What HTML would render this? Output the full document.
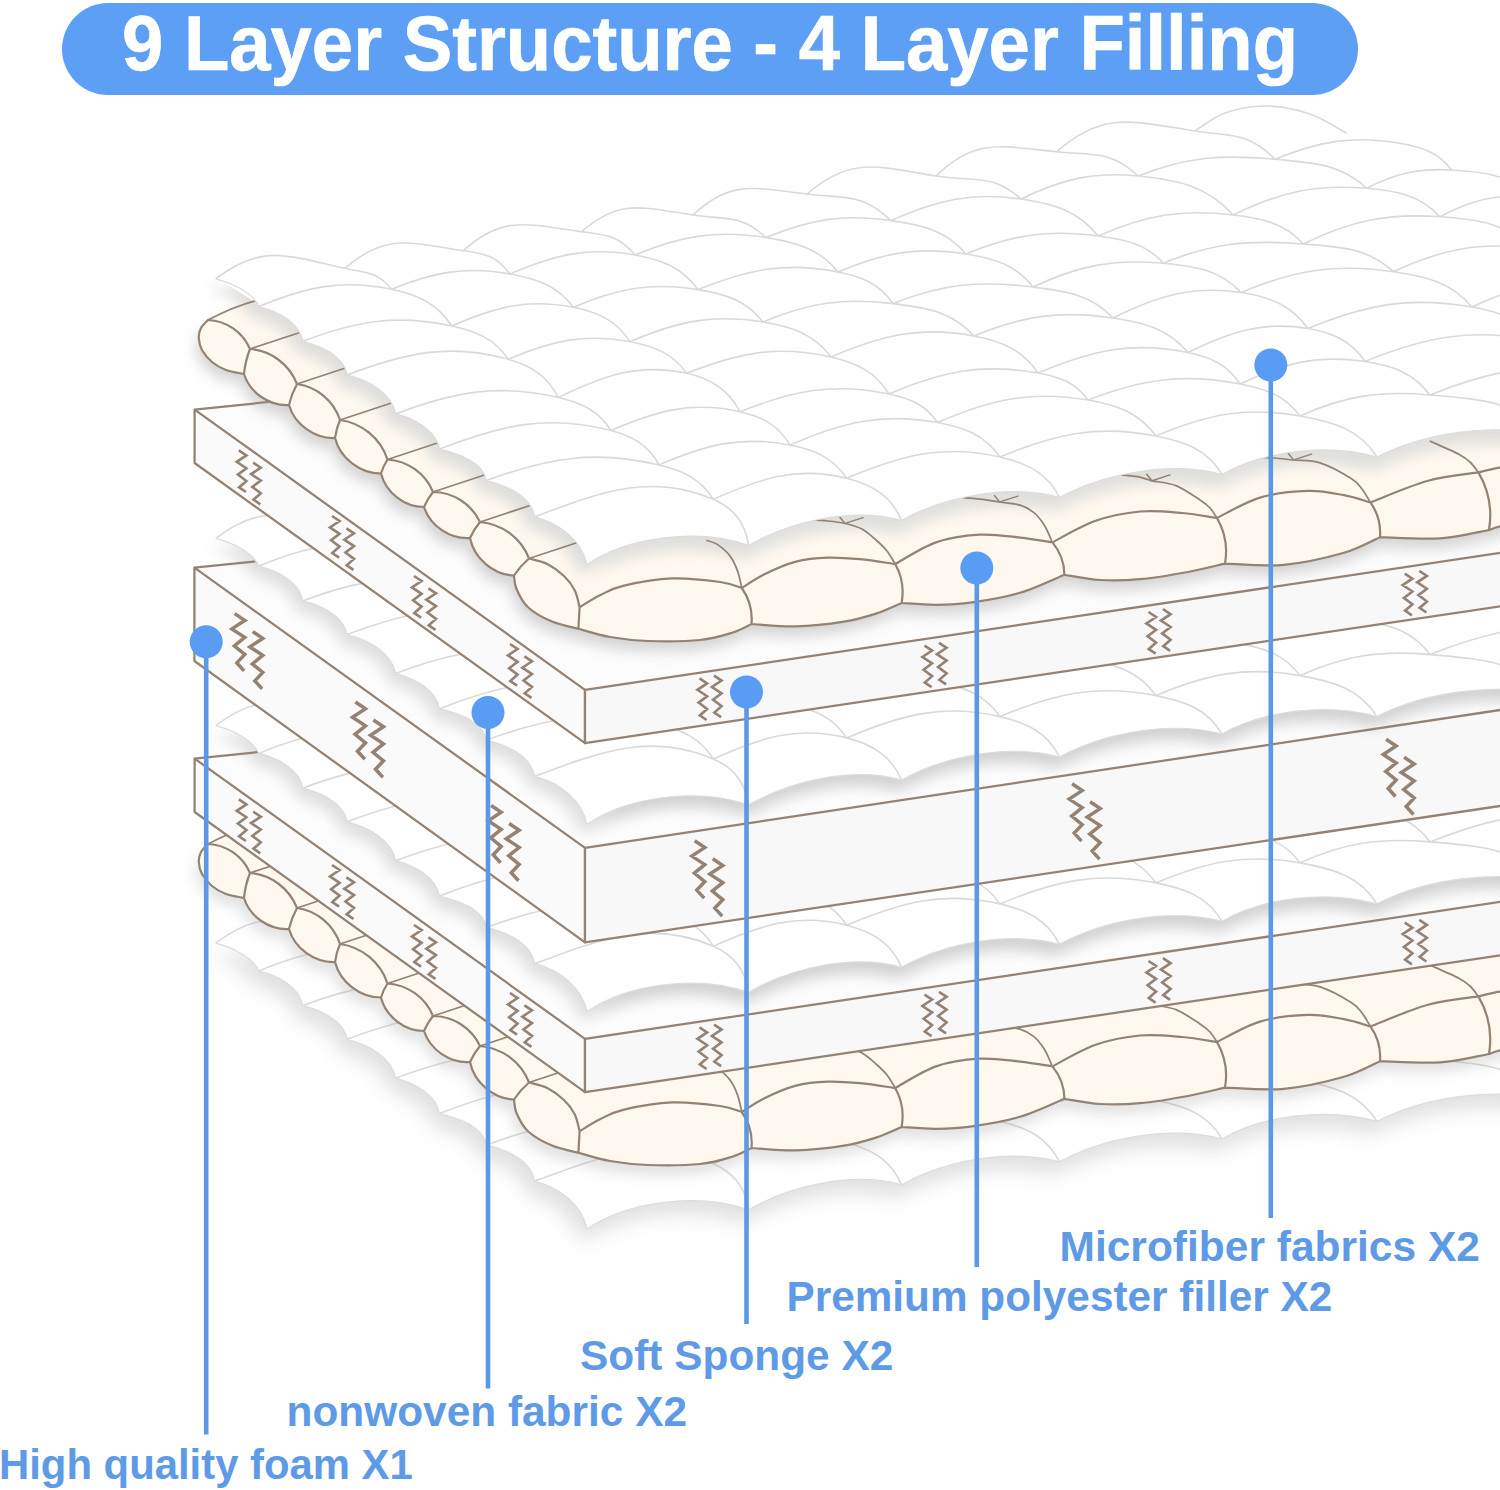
<!DOCTYPE html>
<html><head><meta charset="utf-8"><title>9 Layer Structure</title>
<style>
html,body{margin:0;padding:0;background:#fff;}
body{width:1500px;height:1490px;overflow:hidden;font-family:"Liberation Sans",sans-serif;}
svg{display:block;position:absolute;left:0;top:0;}
text{font-family:"Liberation Sans",sans-serif;font-weight:bold;}
</style></head><body>
<svg width="1500" height="1490" viewBox="0 0 1500 1490">
<defs>
<filter id="blur8" x="-10%" y="-10%" width="120%" height="130%"><feGaussianBlur stdDeviation="7"/></filter>
<filter id="blur5" x="-10%" y="-10%" width="120%" height="130%"><feGaussianBlur stdDeviation="4.5"/></filter>
<filter id="blur12" x="-10%" y="-10%" width="120%" height="130%"><feGaussianBlur stdDeviation="10"/></filter>
<clipPath id="sheetclip"><path d="M215.7,278.8 C230.7,282.8 251.9,291.5 258.9,306.5 C278.9,311.5 299.4,322.8 302.9,341.3 C322.8,346.3 343.7,356.5 347.2,374.9 C369.4,380.5 391.8,393.3 395.7,413.9 C415.8,418.9 436,430.5 439.5,449.1 C459.7,454.1 482.9,461.9 486.4,480.5 C508,485.9 530.9,496.8 534.7,516.8 C560,523.1 582.5,541.4 586.9,564.8 C626.9,536.8 698.5,527.5 748.5,545.5 C789.8,521.5 852.5,506.5 901.5,520.5 C944.2,496.5 1008.9,483.5 1059.5,497.5 C1103.4,473.5 1170,460.5 1222,474.5 C1263.8,450.5 1327.4,443 1377,457 C1423.2,433 1493.3,422 1548,436 L1560,430 L1560,60 L200,60 L200,278.3 Z"/></clipPath>
<clipPath id="puffclip"><path d="M208,320 C206.8,321.3 202.5,325 201,328 C199.5,331 198.6,334.3 198.8,338 C199,341.7 199.8,346 202,350 C204.2,354 208,358.7 212,362 C216,365.3 220.7,368 226,370 C231.3,372 241,373.3 244,374 C249.9,392.8 269.4,406.2 289,405 C294.7,424.6 314.6,438.8 335,438 C340.2,458.3 360.1,473.6 381,473.5 C385.8,492.5 404.4,507 424,507 C430.2,526 450.1,539.4 470,538 C474.2,558.4 493.2,574.6 514,575.5 C514.4,577.8 514.2,583.7 516.5,589 C518.8,594.3 522.1,601.8 528,607.2 C533.9,612.6 543.6,618 552,621.6 C560.4,625.2 574,627.6 578.4,628.8 C583.7,630.2 598.4,635 610,637 C621.6,639 633,640.5 648,641 C663,641.5 686,641.4 700,640 C714,638.6 723.4,635.5 732,632.8 C740.6,630.1 748.2,625.5 751.5,624 C758.9,624.4 780.6,626.8 796,626.4 C811.4,626 830.7,623.7 844,621.6 C857.3,619.5 866.4,616.7 876,613.6 C885.6,610.5 897.3,604.8 901.6,603 C907.3,603.3 924.3,604.9 936,604.8 C947.7,604.7 958,604.4 972,602.4 C986,600.4 1004.6,597.4 1020,592.8 C1035.4,588.2 1057,577.8 1064.4,574.8 C1070.3,575.7 1087.4,579.3 1100,580 C1112.6,580.7 1125.3,580.5 1140,579.2 C1154.7,577.9 1173.8,574.6 1188,572 C1202.2,569.4 1218.8,565 1225,563.6 C1234.8,563.8 1264.2,566.6 1284,564.8 C1303.8,563 1328,557.4 1344,552.8 C1360,548.2 1374,539.8 1380,537.2 C1390,537.4 1421.8,539.6 1440,538.4 C1458.2,537.2 1480.8,531.4 1489,530 C1490.8,529.4 1493.2,528.1 1500,526.4 C1506.8,524.7 1525,521.1 1530,520 L1530,380 L1543,408 L1372,429 L1217,446.5 L1054.5,469.5 L896.5,492.5 L743.5,517.5 L640,500 L608.9,554.8 L556.7,506.8 L508.4,470.5 L461.5,439.1 L417.7,403.9 L369.2,364.9 L324.9,331.3 L280.9,296.5 L256,300.5 Z"/><path d="M192,262 L262,306.5 L256,300.5 L208,320 L192,322 Z"/></clipPath>
<path id="sheetshape" d="M215.7,278.8 C230.7,282.8 251.9,291.5 258.9,306.5 C278.9,311.5 299.4,322.8 302.9,341.3 C322.8,346.3 343.7,356.5 347.2,374.9 C369.4,380.5 391.8,393.3 395.7,413.9 C415.8,418.9 436,430.5 439.5,449.1 C459.7,454.1 482.9,461.9 486.4,480.5 C508,485.9 530.9,496.8 534.7,516.8 C560,523.1 582.5,541.4 586.9,564.8 C626.9,536.8 698.5,527.5 748.5,545.5 C789.8,521.5 852.5,506.5 901.5,520.5 C944.2,496.5 1008.9,483.5 1059.5,497.5 C1103.4,473.5 1170,460.5 1222,474.5 C1263.8,450.5 1327.4,443 1377,457 C1423.2,433 1493.3,422 1548,436 L1560,430 L1560,100 L1300,100 L1318,116 C1271.3,121.7 1238.7,113.4 1195,131 C1142.1,125.9 1105.4,130.5 1056.7,151.7 C1010,149.6 977.9,155.2 936,176 C886.6,172.9 852.6,174.7 807,194 C763,191.3 732.8,196.1 693,215 C650.4,211.8 620.9,214.6 581.7,231.7 C536.5,226 504.9,232.1 463.3,250.7 C418.4,243.6 386.7,250.2 345,268.3 C296.4,259.9 262.1,262.2 215.7,278.8 Z"/>
<g id="sheet">
<use href="#sheetshape" fill="#fff"/>
<path d="M215.7,278.8 C230.7,282.8 251.9,291.5 258.9,306.5 C278.9,311.5 299.4,322.8 302.9,341.3 C322.8,346.3 343.7,356.5 347.2,374.9 C369.4,380.5 391.8,393.3 395.7,413.9 C415.8,418.9 436,430.5 439.5,449.1 C459.7,454.1 482.9,461.9 486.4,480.5 C508,485.9 530.9,496.8 534.7,516.8 C560,523.1 582.5,541.4 586.9,564.8 C626.9,536.8 698.5,527.5 748.5,545.5 C789.8,521.5 852.5,506.5 901.5,520.5 C944.2,496.5 1008.9,483.5 1059.5,497.5 C1103.4,473.5 1170,460.5 1222,474.5 C1263.8,450.5 1327.4,443 1377,457 C1423.2,433 1493.3,422 1548,436" fill="none" stroke="#dcdcdc" stroke-width="1.2"/>
<g clip-path="url(#sheetclip)"><path d="M215.7,278.8 C261.9,243.1 288,255.8 345,268.3 C367.5,273.2 377,271.6 391.7,289.3 M258.9,306.5 C306,287.1 341.9,278.7 391.7,289.3 C417.8,294.9 437.3,303.5 451.7,326 M302.9,341.3 C356,321 396.2,313.9 451.7,326 C476.1,331.3 494.5,338.5 508.3,359.3 M347.2,374.9 C404.8,353.3 449.2,342.4 508.3,359.3 C531.3,365.9 547.6,376.1 558.3,397.5 M395.7,413.9 C453.8,391.9 497.8,383.4 558.3,397.5 C581.3,402.9 598.5,410.5 611,430.5 M439.5,449.1 C500.6,425.4 547.6,413.8 611,430.5 C632.7,436.2 648.4,445.2 659,465 M486.4,480.5 C548.2,457.8 595,449.5 659,465 C682.7,470.7 700.5,478.5 713.3,499.3 M534.7,516.8 C598.5,492.8 650.8,472.1 713.3,499.3 C733.5,508.1 745.7,523.6 748.5,545.5 M345,268.3 C385.3,232.7 410.1,242.7 463.3,250.7 C486.5,254.2 495.7,255.4 510,274 M391.7,289.3 C433.6,272 465.4,266 510,274 C536.8,278.8 557.2,285.4 573.3,307.3 M451.7,326 C494.5,307.2 527.4,298.2 573.3,307.3 C598,312.2 616.4,320.5 630,341.7 M508.3,359.3 C551.2,340.9 584,333.2 630,341.7 C654.3,346.2 672.6,353.1 686.7,373.3 M558.3,397.5 C603,376 638.2,362.5 686.7,373.3 C711.1,378.7 728.2,389.7 740,411.7 M611,430.5 C656.5,410.9 691.7,400.8 740,411.7 C762.3,416.7 778.5,425.3 790,445 M659,465 C705.1,444.8 740.5,435.5 790,445 C814.5,449.7 832.9,457.5 846.7,478.3 M713.3,499.3 C760.2,478.5 797,465.6 846.7,478.3 C872.2,484.8 891.5,496.2 901.5,520.5 M463.3,250.7 C503.3,214.5 528.2,224.3 581.7,231.7 C607.6,235.3 618,235.1 635,255 M510,274 C554,254.7 587.7,246.6 635,255 C661.9,259.8 682.2,267.3 698,289.6 M573.3,307.3 C617.3,288.5 650.8,281.9 698,289.6 C725.2,294 746.2,300.1 763,322 M630,341.7 C676.9,321.4 712.6,313.7 763,322 C791.7,326.7 813.6,333.7 831,357 M686.7,373.3 C738.1,353.1 777.2,344.5 831,357 C856.5,362.9 875.4,371.7 889,394 M740,411.7 C792.9,390.5 833.2,382.3 889,394 C909.9,398.4 925.7,404.7 937.5,422.5 M790,445 C841.9,422.2 881.7,412.5 937.5,422.5 C964.2,427.3 984.4,434.8 1000,457 M846.7,478.3 C900.9,455.4 942.7,443.6 1000,457 C1026.6,463.2 1047.6,472.9 1059.5,497.5 M581.7,231.7 C619.6,198.1 642.9,207.5 693,215 C727,220.1 740.9,214.1 766,237.6 M635,255 C681.4,235.7 716.4,229.8 766,237.6 C796,242.3 819.1,248.3 838,272 M698,289.6 C747.7,269.4 785.4,261.4 838,272 C861.6,276.7 879.5,283.6 893,303.6 M763,322 C808.9,302.5 843.5,297.6 893,303.6 C925.9,307.6 951.7,311.4 974,336 M831,357 C881.4,335.2 920.1,325.7 974,336 C1001.6,341.3 1022.3,349.7 1038,373 M889,394 C941.6,371.6 981.7,362.9 1038,373 C1059.3,376.8 1075.4,382.4 1088,400 M937.5,422.5 C990.5,399.4 1031,390.3 1088,400 C1116.8,404.9 1138.8,412.4 1156,436 M1000,457 C1055.2,433.9 1097.3,424.3 1156,436 C1184.5,441.7 1207.6,449.3 1222,474.5 M693,215 C730.9,179.1 755.2,188 807,194 C846.4,198.5 862.3,193.3 891,220.6 M766,237.6 C810.2,219.1 843.5,213.8 891,220.6 C921.9,225 945.9,230.1 966,254 M838,272 C883.2,252.8 917.5,246.2 966,254 C994,258.5 1015.6,264.6 1033,287 M893,303.6 C942.8,283.7 979.9,280.3 1033,287 C1065.3,291.1 1090.8,294.1 1113,318 M974,336 C1023.2,315.7 1060.3,310 1113,318 C1144,322.7 1168.1,328.2 1188,352.5 M1038,373 C1091,350.7 1131.7,340.8 1188,352.5 C1210.6,357.2 1227.5,364.6 1240,384 M1088,400 C1142.2,379.2 1183,372.9 1240,384 C1265.4,388.9 1284.8,395.1 1300,416 M1156,436 C1206.9,414.5 1245.6,406.3 1300,416 C1332.6,421.8 1359.5,428.9 1377,457 M807,194 C851.3,155.6 878.1,166.8 936,176 C975.1,182.2 991.2,172.9 1021,199 M891,220.6 C936.6,199.9 971.4,192 1021,199 C1053.2,203.6 1078.1,210.5 1098.3,236 M966,254 C1012.8,234.4 1048,229.4 1098.3,236 C1124.9,239.5 1145.6,243.1 1163.3,263.3 M1033,287 C1078.5,265.5 1113.2,258.8 1163.3,263.3 C1194.7,266.1 1219.3,269.6 1241,292.5 M1113,318 C1157.5,296.1 1191.9,285.2 1241,292.5 C1269.6,296.8 1291.1,305 1308,328.5 M1188,352.5 C1229.7,331.9 1262.1,320.9 1308,328.5 C1332.7,332.6 1351,340.7 1365,361.5 M1240,384 C1283.7,363.4 1317.3,354.3 1365,361.5 C1392.5,365.6 1413.4,372.7 1430,395 M1300,416 C1345.7,395.5 1380.1,390.6 1430,395 C1477.3,399.1 1517,400.1 1548,436 M936,176 C975.6,137.2 1001.6,146.3 1056.7,151.7 C1094.8,155.5 1110.1,150.1 1138.3,176 M1021,199 C1061.8,179 1093.1,171.6 1138.3,176 C1177.1,179.8 1207.4,185.9 1233.3,215 M1098.3,236 C1145.8,215 1181.8,208.8 1233.3,215 C1261.9,218.4 1284.2,222.4 1303.3,244 M1163.3,263.3 C1212.8,242.4 1249.8,239.7 1303.3,244 C1339,246.9 1367.2,247.2 1393.3,271.7 M1241,292.5 C1294.9,269.9 1335.5,263.4 1393.3,271.7 C1425.7,276.4 1451,281.8 1472,307 M1308,328.5 C1366.1,304.5 1410.1,296 1472,307 C1498.6,311.7 1519,318.2 1535,340 M1365,361.5 C1425.3,336.9 1471,328.1 1535,340 C1562.6,345.1 1583.6,352.2 1600,375 M1430,395 C1490.4,370.9 1536.6,360.4 1600,375 C1630.8,382.1 1655.5,391.9 1670,420 M1056.7,151.7 C1103.8,110 1132.8,121.7 1195,131 C1232.8,136.6 1248.2,132.1 1275,159.3 M1138.3,176 C1186.8,156.4 1222.9,154.5 1275,159.3 C1311.4,162.7 1340.2,163.1 1366.7,188.3 M1233.3,215 C1279.6,192.1 1315.2,183.9 1366.7,188.3 C1396.5,190.9 1419.7,194.8 1440,216.7 M1303.3,244 C1350.8,220.5 1387.2,213.1 1440,216.7 C1476.1,219.2 1504.5,222.3 1530,248 M1393.3,271.7 C1441.1,249.6 1477.7,241.7 1530,248 C1562.9,252 1588.5,257.7 1610,283 M1472,307 C1520.3,284.6 1557.3,275.3 1610,283 C1639.4,287.3 1661.9,294.4 1680,318 M1195,131 C1200,128 1213,117.2 1225,113 C1237,108.8 1252.5,105.8 1266.7,106 C1280.9,106.2 1296.7,109.5 1310,114 C1323.3,118.5 1340.6,130.1 1346.7,133.3 M1275,159.3 C1319.3,141.1 1352.8,135 1400,143.3 C1421.8,147.1 1438.5,152.3 1451.7,170 M1366.7,188.3 C1396.1,173.2 1418.7,168.2 1451.7,170 C1483,171.7 1507.6,174.1 1530,196 M1440,216.7 C1471,200.3 1494.9,194.3 1530,196 C1568,197.9 1597.9,201.2 1625,228" fill="none" stroke="#d9d9d9" stroke-width="1.6"/></g>
</g>
<g id="sheetshadow"><path d="M586.9,564.8 C626.9,536.8 698.5,527.5 748.5,545.5 C789.8,521.5 852.5,506.5 901.5,520.5 C944.2,496.5 1008.9,483.5 1059.5,497.5 C1103.4,473.5 1170,460.5 1222,474.5 C1263.8,450.5 1327.4,443 1377,457 C1423.2,433 1493.3,422 1548,436 L1560,430 L1560,330 L1400,345 L1100,395 L800,440 L690,470 L640,500 Z" fill="#8c8c8c" opacity="0.16" filter="url(#blur8)" transform="translate(2,12)"/><path d="M215.7,278.8 C230.7,282.8 251.9,291.5 258.9,306.5 C278.9,311.5 299.4,322.8 302.9,341.3 C322.8,346.3 343.7,356.5 347.2,374.9 C369.4,380.5 391.8,393.3 395.7,413.9 C415.8,418.9 436,430.5 439.5,449.1 C459.7,454.1 482.9,461.9 486.4,480.5 C508,485.9 530.9,496.8 534.7,516.8 C560,523.1 582.5,541.4 586.9,564.8 C626.9,536.8 698.5,527.5 748.5,545.5 C789.8,521.5 852.5,506.5 901.5,520.5 C944.2,496.5 1008.9,483.5 1059.5,497.5 C1103.4,473.5 1170,460.5 1222,474.5 C1263.8,450.5 1327.4,443 1377,457 C1423.2,433 1493.3,422 1548,436 L1560,430 L1560,330 L1400,345 L1100,395 L800,440 L690,470 L600,420 L450,310 L330,280 L290,272 Z" fill="#8c8c8c" opacity="0.26" filter="url(#blur8)" transform="translate(-6,10)"/></g>
<g id="sheetshadowB"><path d="M215.7,278.8 C230.7,282.8 251.9,291.5 258.9,306.5 C278.9,311.5 299.4,322.8 302.9,341.3 C322.8,346.3 343.7,356.5 347.2,374.9 C369.4,380.5 391.8,393.3 395.7,413.9 C415.8,418.9 436,430.5 439.5,449.1 C459.7,454.1 482.9,461.9 486.4,480.5 C508,485.9 530.9,496.8 534.7,516.8 C560,523.1 582.5,541.4 586.9,564.8 C626.9,536.8 698.5,527.5 748.5,545.5 C789.8,521.5 852.5,506.5 901.5,520.5 C944.2,496.5 1008.9,483.5 1059.5,497.5 C1103.4,473.5 1170,460.5 1222,474.5 C1263.8,450.5 1327.4,443 1377,457 C1423.2,433 1493.3,422 1548,436 L1560,430 L1560,330 L1400,345 L1100,395 L800,440 L690,470 L600,420 L450,310 L330,280 L290,272 Z" fill="#8c8c8c" opacity="0.27" filter="url(#blur12)" transform="translate(-6,13)"/></g>
<g id="sheetshadow2"><path d="M586.9,564.8 C626.9,536.8 698.5,527.5 748.5,545.5 C789.8,521.5 852.5,506.5 901.5,520.5 C944.2,496.5 1008.9,483.5 1059.5,497.5 C1103.4,473.5 1170,460.5 1222,474.5 C1263.8,450.5 1327.4,443 1377,457 C1423.2,433 1493.3,422 1548,436 L1560,430 L1560,330 L1400,345 L1100,395 L800,440 L690,470 L640,500 Z" fill="#e4e4e2" opacity="0.7" filter="url(#blur8)" transform="translate(0,14)"/><path d="M215.7,278.8 C230.7,282.8 251.9,291.5 258.9,306.5 C278.9,311.5 299.4,322.8 302.9,341.3 C322.8,346.3 343.7,356.5 347.2,374.9 C369.4,380.5 391.8,393.3 395.7,413.9 C415.8,418.9 436,430.5 439.5,449.1 C459.7,454.1 482.9,461.9 486.4,480.5 C508,485.9 530.9,496.8 534.7,516.8 C560,523.1 582.5,541.4 586.9,564.8 C626.9,536.8 698.5,527.5 748.5,545.5 C789.8,521.5 852.5,506.5 901.5,520.5 C944.2,496.5 1008.9,483.5 1059.5,497.5 C1103.4,473.5 1170,460.5 1222,474.5 C1263.8,450.5 1327.4,443 1377,457 C1423.2,433 1493.3,422 1548,436 L1560,430 L1560,330 L1400,345 L1100,395 L800,440 L690,470 L600,420 L450,310 L330,280 L290,272 Z" fill="#dededc" opacity="1" filter="url(#blur8)" transform="translate(-8,10)"/></g>
<path id="puffsil" d="M208,320 C206.8,321.3 202.5,325 201,328 C199.5,331 198.6,334.3 198.8,338 C199,341.7 199.8,346 202,350 C204.2,354 208,358.7 212,362 C216,365.3 220.7,368 226,370 C231.3,372 241,373.3 244,374 C249.9,392.8 269.4,406.2 289,405 C294.7,424.6 314.6,438.8 335,438 C340.2,458.3 360.1,473.6 381,473.5 C385.8,492.5 404.4,507 424,507 C430.2,526 450.1,539.4 470,538 C474.2,558.4 493.2,574.6 514,575.5 C514.4,577.8 514.2,583.7 516.5,589 C518.8,594.3 522.1,601.8 528,607.2 C533.9,612.6 543.6,618 552,621.6 C560.4,625.2 574,627.6 578.4,628.8 C583.7,630.2 598.4,635 610,637 C621.6,639 633,640.5 648,641 C663,641.5 686,641.4 700,640 C714,638.6 723.4,635.5 732,632.8 C740.6,630.1 748.2,625.5 751.5,624 C758.9,624.4 780.6,626.8 796,626.4 C811.4,626 830.7,623.7 844,621.6 C857.3,619.5 866.4,616.7 876,613.6 C885.6,610.5 897.3,604.8 901.6,603 C907.3,603.3 924.3,604.9 936,604.8 C947.7,604.7 958,604.4 972,602.4 C986,600.4 1004.6,597.4 1020,592.8 C1035.4,588.2 1057,577.8 1064.4,574.8 C1070.3,575.7 1087.4,579.3 1100,580 C1112.6,580.7 1125.3,580.5 1140,579.2 C1154.7,577.9 1173.8,574.6 1188,572 C1202.2,569.4 1218.8,565 1225,563.6 C1234.8,563.8 1264.2,566.6 1284,564.8 C1303.8,563 1328,557.4 1344,552.8 C1360,548.2 1374,539.8 1380,537.2 C1390,537.4 1421.8,539.6 1440,538.4 C1458.2,537.2 1480.8,531.4 1489,530 C1490.8,529.4 1493.2,528.1 1500,526.4 C1506.8,524.7 1525,521.1 1530,520 L1530,380 L1543,408 L1372,429 L1217,446.5 L1054.5,469.5 L896.5,492.5 L743.5,517.5 L640,500 L608.9,554.8 L556.7,506.8 L508.4,470.5 L461.5,439.1 L417.7,403.9 L369.2,364.9 L324.9,331.3 L280.9,296.5 L256,300.5 Z"/>
<g id="puffy">
<path d="M208,320 Q232,307 256,300.5 M250,349 L312,328.5 M297,384 L359,363.5 M340,420 L402,399.5 M387.5,459.5 L449.5,439 M433,492 L495,471.5 M480,522 L542,501.5 M529,558.5 L591,538 M741.8,588 C741.1,585.2 739.5,576.4 737.6,571.1 C735.7,565.8 733.5,560.6 730.1,556.1 C726.7,551.6 721.1,547 717.3,544.4 C713.4,541.8 708.7,541.1 707,540.5 M895.2,564 C893.8,561.8 890.2,555 887,551 C883.8,547 880.2,543.7 876,540 C871.8,536.3 867.2,531.8 862,529 C856.8,526.2 850.7,524.8 845,523.5 C839.3,522.2 833.7,521.6 828,521 C822.3,520.4 813.8,519.8 811,519.6 M1051.5,540.4 C1050.3,537.9 1047.4,530.1 1044.5,525.5 C1041.6,520.9 1038,516.1 1033.9,512.7 C1029.8,509.3 1025.7,507 1020,505.2 C1014.3,503.4 1005.9,503 999.7,502 C993.5,501 988.7,500 982.7,499.3 C976.7,498.6 966.7,498 963.5,497.7 M1217,518 C1215.8,516.3 1212.8,511 1210,508 C1207.2,505 1205.7,503.7 1200,500 C1194.3,496.3 1184,488.8 1176,485.6 C1168,482.4 1158,482.2 1152,480.8 C1146,479.4 1145,478.2 1140,477.2 C1135,476.2 1125,475.4 1122,475 M1370.4,502.4 C1369,500.2 1365.2,493 1362,489 C1358.8,485 1358.2,482.8 1351.2,478.4 C1344.2,474 1329.6,465.9 1320,462.8 C1310.4,459.7 1301.2,460.8 1293.6,460 C1286,459.2 1280.3,458.5 1274.4,458 C1268.5,457.5 1260.7,457.2 1258,457 M1478.4,472.4 C1477,470.7 1473.2,465 1470,462 C1466.8,459 1465.8,457.9 1459.2,454.4 C1452.6,450.9 1435.2,443.4 1430.4,441.2" fill="none" stroke="#948273" stroke-width="1.75" stroke-linecap="round" stroke-linejoin="round"/>
<path d="M208,320 C206.8,321.3 202.5,325 201,328 C199.5,331 198.6,334.3 198.8,338 C199,341.7 199.8,346 202,350 C204.2,354 208,358.7 212,362 C216,365.3 220.7,368 226,370 C231.3,372 241,373.3 244,374 C249.9,392.8 269.4,406.2 289,405 C294.7,424.6 314.6,438.8 335,438 C340.2,458.3 360.1,473.6 381,473.5 C385.8,492.5 404.4,507 424,507 C430.2,526 450.1,539.4 470,538 C474.2,558.4 493.2,574.6 514,575.5 C514.4,577.8 514.2,583.7 516.5,589 C518.8,594.3 522.1,601.8 528,607.2 C533.9,612.6 543.6,618 552,621.6 C560.4,625.2 574,627.6 578.4,628.8 M578.4,628.8 C583.7,630.2 598.4,635 610,637 C621.6,639 633,640.5 648,641 C663,641.5 686,641.4 700,640 C714,638.6 723.4,635.5 732,632.8 C740.6,630.1 748.2,625.5 751.5,624 M751.5,624 C758.9,624.4 780.6,626.8 796,626.4 C811.4,626 830.7,623.7 844,621.6 C857.3,619.5 866.4,616.7 876,613.6 C885.6,610.5 897.3,604.8 901.6,603 M901.6,603 C907.3,603.3 924.3,604.9 936,604.8 C947.7,604.7 958,604.4 972,602.4 C986,600.4 1004.6,597.4 1020,592.8 C1035.4,588.2 1057,577.8 1064.4,574.8 M1064.4,574.8 C1070.3,575.7 1087.4,579.3 1100,580 C1112.6,580.7 1125.3,580.5 1140,579.2 C1154.7,577.9 1173.8,574.6 1188,572 C1202.2,569.4 1218.8,565 1225,563.6 M1225,563.6 C1234.8,563.8 1264.2,566.6 1284,564.8 C1303.8,563 1328,557.4 1344,552.8 C1360,548.2 1374,539.8 1380,537.2 M1380,537.2 C1390,537.4 1421.8,539.6 1440,538.4 C1458.2,537.2 1480.8,531.4 1489,530 M1489,530 C1490.8,529.4 1493.2,528.1 1500,526.4 C1506.8,524.7 1525,521.1 1530,520 M208,320 C226.4,320.8 242.7,332.1 250,349 M250,349 C271,350.7 289.3,364.3 297,384 M297,384 C317,386.8 333.7,400.8 340,420 M340,420 C362,423 380.5,438.4 387.5,459.5 M387.5,459.5 C407.6,460.7 425.3,473.4 433,492 M433,492 C453.1,492.2 471.4,503.9 480,522 M480,522 C501.9,523.8 521,538 529,558.5 M529,558.5 C532,559.4 541.4,561.1 547.2,564 C553,566.9 559.4,571.6 564,576 C568.6,580.4 572.2,585.2 574.8,590.4 C577.4,595.6 578.8,604.4 579.6,607.2 L578.4,628.8 M250,349 C246.6,357.6 244.9,364.8 244,374 M297,384 C293.1,391.1 290.8,397.1 289,405 M340,420 C337.3,426.2 335.9,431.3 335,438 M387.5,459.5 C384.5,464.2 382.6,468.2 381,473.5 M433,492 C429,496.9 426.5,501.2 424,507 M480,522 C475.6,527.2 472.8,531.8 470,538 M529,558.5 C522.8,563.8 518.5,568.7 514,575.5 M579.6,607.2 C583,605.2 592.6,598.8 600,595.2 C607.4,591.6 612,588.4 624,585.6 C636,582.8 656,579 672,578.4 C688,577.8 708.4,580.4 720,582 C731.6,583.6 738.2,587 741.8,588 M741.8,588 C745.5,585.7 755,578.8 764,574.4 C773,570 785.3,564.4 796,561.6 C806.7,558.8 817.3,558 828,557.6 C838.7,557.2 848.8,558.1 860,559.2 C871.2,560.3 889.3,563.2 895.2,564 M895.2,564 C902,560.4 922,547.3 936,542.4 C950,537.5 965.2,535.5 979.2,534.7 C993.2,533.9 1007.8,536.3 1020,537.6 C1032.2,538.9 1047,541.6 1052.4,542.4 M1052.4,542.4 C1059.5,538.8 1080.4,526.1 1095,521 C1109.6,515.9 1125.5,512.8 1140,511.5 C1154.5,510.2 1169.2,511.9 1182,513 C1194.8,514.1 1211.2,517.2 1217,518 M1217,518 C1224.2,514.6 1244.8,502.1 1260,497.6 C1275.2,493.1 1294,491.3 1308,490.9 C1322,490.5 1333.6,493.3 1344,495.2 C1354.4,497.1 1366,501.2 1370.4,502.4 M1370.4,502.4 C1380,498.8 1410,485.8 1428,480.8 C1446,475.8 1470,473.8 1478.4,472.4 M1478.4,472.4 C1482,471.6 1491.4,468.8 1500,467.6 C1508.6,466.4 1525,465.4 1530,465 M741.8,588 C749.5,599 752.7,610.6 751.5,624 M895.2,564 C902.2,576.4 904.2,589 901.6,603 M1052.4,542.4 C1060.4,551.9 1064.3,562.4 1064.4,574.8 M1217,518 C1225.3,532.4 1227.9,547.2 1225,563.6 M1370.4,502.4 C1377.9,513 1381,524.2 1380,537.2 M1478.4,472.4 C1489.1,490.6 1492.5,509.2 1489,530" fill="none" stroke="#948273" stroke-width="2.2" stroke-linecap="round" stroke-linejoin="round"/>
</g>
<g id="sponge">
<path d="M194.6,409.6 L585,689.8 L1510,551.4 L1510,221.4 L394.6,389.6 Z" fill="#fcfcfc"/>
<path d="M194.6,409.6 L364.6,392.1" fill="none" stroke="#948273" stroke-width="2.25"/>
<path d="M194.6,409.6 L585,689.8 L585,743.2 L194.6,463 Z" fill="#fafafa" stroke="#948273" stroke-width="2.25" stroke-linejoin="round"/>
<path d="M585,689.8 L1510,551.4 L1510,604.8 L585,743.2 Z" fill="#f8f8f9" stroke="#948273" stroke-width="2.25" stroke-linejoin="round"/>
<path d="M238.8,450.4 L246.4,455.4 L236.7,461.8 L246.4,468.2 L237.9,474.6 L246.4,481 L239.1,487.4 L245.9,492 M253.2,462.7 L260.8,467.7 L251.1,474.1 L260.8,480.5 L252.3,486.9 L260.8,493.3 L253.5,499.7 L260.3,504.3 M332,516 L339.6,521 L329.9,527.4 L339.6,533.8 L331.1,540.2 L339.6,546.6 L332.3,553 L339.1,557.6 M346.4,528.3 L354,533.3 L344.3,539.7 L354,546.1 L345.5,552.5 L354,558.9 L346.7,565.3 L353.5,569.9 M414,576 L421.6,581 L411.9,587.4 L421.6,593.8 L413.1,600.2 L421.6,606.6 L414.3,613 L421.1,617.6 M428.4,588.3 L436,593.3 L426.3,599.7 L436,606.1 L427.5,612.5 L436,618.9 L428.7,625.3 L435.5,629.9 M510,644 L517.6,649 L507.9,655.4 L517.6,661.8 L509.1,668.2 L517.6,674.6 L510.3,681 L517.1,685.6 M524.4,656.3 L532,661.3 L522.3,667.7 L532,674.1 L523.5,680.5 L532,686.9 L524.7,693.3 L531.5,697.9 M699.5,678.4 L707.1,683.4 L697.4,689.8 L707.1,696.2 L698.6,702.6 L707.1,709 L699.8,715.4 L706.6,720 M714,675.6 L721.6,680.6 L711.9,687 L721.6,693.4 L713.1,699.8 L721.6,706.2 L714.3,712.6 L721.1,717.2 M924.5,645.6 L932.1,650.6 L922.4,657 L932.1,663.4 L923.6,669.8 L932.1,676.2 L924.8,682.6 L931.6,687.2 M939,642.8 L946.6,647.8 L936.9,654.2 L946.6,660.6 L938.1,667 L946.6,673.4 L939.3,679.8 L946.1,684.4 M1148.5,612 L1156.1,617 L1146.4,623.4 L1156.1,629.8 L1147.6,636.2 L1156.1,642.6 L1148.8,649 L1155.6,653.6 M1163,609.2 L1170.6,614.2 L1160.9,620.6 L1170.6,627 L1162.1,633.4 L1170.6,639.8 L1163.3,646.2 L1170.1,650.8 M1404.8,573.7 L1412.4,578.7 L1402.7,585.1 L1412.4,591.5 L1403.9,597.9 L1412.4,604.3 L1405.1,610.7 L1411.9,615.3 M1419.3,570.9 L1426.9,575.9 L1417.2,582.3 L1426.9,588.7 L1418.4,595.1 L1426.9,601.5 L1419.6,607.9 L1426.4,612.5" fill="none" stroke="#948273" stroke-width="2.6" stroke-linejoin="miter" stroke-linecap="butt"/>
</g>
</defs>
<rect width="1500" height="1490" fill="#fff"/>

<g transform="translate(0,664.4)"><use href="#sheetshadowB"/><use href="#sheet"/></g>
<g transform="translate(0,524)"><use href="#puffsil" fill="#9a9a9a" opacity="0.28" filter="url(#blur8)" transform="translate(-3,10)"/><use href="#puffsil" fill="#fef8ef"/><use href="#puffy"/></g>
<g transform="translate(0,349)"><use href="#sponge"/></g>
<g transform="translate(0,446.9)"><use href="#sheetshadow"/><use href="#sheet"/></g>
<path d="M194.4,567.6 L585,847.8 L1510,708.5 L1510,378.5 L394.4,547.6 Z" fill="#fcfcfc"/>
<path d="M194.4,567.6 L364.4,550.1" fill="none" stroke="#948273" stroke-width="2.25"/>
<path d="M194.4,567.6 L585,847.8 L585,942.3 L194.4,661 Z" fill="#fafafa" stroke="#948273" stroke-width="2.25" stroke-linejoin="round"/>
<path d="M585,847.8 L1510,708.5 L1510,804.5 L585,942.3 Z" fill="#f8f8f9" stroke="#948273" stroke-width="2.25" stroke-linejoin="round"/>
<path d="M234.7,613.6 L244.8,620.4 L231.8,628.9 L244.8,637.4 L234.3,645.9 L244.8,654.4 L236.8,662.9 L244.1,670.9 M252.7,631.6 L262.8,638.4 L249.8,646.9 L262.8,655.4 L252.3,663.9 L262.8,672.4 L254.8,680.9 L262.1,688.9 M355.4,702 L365.5,708.8 L352.5,717.3 L365.5,725.8 L355,734.3 L365.5,742.8 L357.5,751.3 L364.9,759.3 M373.4,720 L383.5,726.8 L370.5,735.3 L383.5,743.8 L373,752.3 L383.5,760.8 L375.5,769.3 L382.9,777.3 M491.1,805.5 L501.2,812.3 L488.2,820.8 L501.2,829.3 L490.7,837.8 L501.2,846.3 L493.2,854.8 L500.6,862.8 M509.1,823.5 L519.2,830.3 L506.2,838.8 L519.2,847.3 L508.7,855.8 L519.2,864.3 L511.2,872.8 L518.5,880.8 M694.7,840.8 L704.8,847.6 L691.8,856.1 L704.8,864.6 L694.3,873.1 L704.8,881.6 L696.8,890.1 L704.2,898.1 M712.7,858.8 L722.8,865.6 L709.8,874.1 L722.8,882.6 L712.3,891.1 L722.8,899.6 L714.8,908.1 L722.2,916.1 M1072.1,783.8 L1082.2,790.6 L1069.2,799.1 L1082.2,807.6 L1071.7,816.1 L1082.2,824.6 L1074.2,833.1 L1081.5,841.1 M1090.1,801.8 L1100.2,808.6 L1087.2,817.1 L1100.2,825.6 L1089.7,834.1 L1100.2,842.6 L1092.2,851.1 L1099.5,859.1 M1386.1,739.2 L1396.2,746 L1383.2,754.5 L1396.2,763 L1385.7,771.5 L1396.2,780 L1388.2,788.5 L1395.5,796.5 M1404.1,757.2 L1414.2,764 L1401.2,772.5 L1414.2,781 L1403.7,789.5 L1414.2,798 L1406.2,806.5 L1413.5,814.5" fill="none" stroke="#948273" stroke-width="3.5" stroke-linejoin="miter" stroke-linecap="butt"/>
<g transform="translate(0,259.6)"><use href="#sheetshadow"/><use href="#sheet"/></g>
<use href="#sponge"/>
<use href="#puffsil" fill="#9a9a9a" opacity="0.4" filter="url(#blur8)" transform="translate(-3,10)"/><use href="#puffsil" fill="#fef8ef"/>
<g clip-path="url(#puffclip)"><use href="#sheetshadow2"/></g>
<use href="#puffy"/>
<path d="M839.7,517 L845,523.5 L863,517.6 M994.4,495.6 L999.7,502 L1017.9,496.1 M1146.7,474.3 L1152,480.8 L1170,474.9 M1288.3,453.5 L1293.6,460 L1311.6,454.1" fill="none" stroke="#948273" stroke-width="1.5" stroke-linecap="round"/>
<use href="#sheet"/>
<rect x="62" y="3" width="1296" height="92" rx="46" ry="46" fill="#5e9ff6"/>
<text x="122" y="69.6" font-size="78" fill="#fff" stroke="#fff" stroke-width="0.7" stroke-linejoin="round" textLength="1176" lengthAdjust="spacingAndGlyphs">9 Layer Structure - 4 Layer Filling</text>
<line x1="206.2" y1="641.8" x2="206.2" y2="1434.5" stroke="#5b98e6" stroke-width="4.6"/>
<circle cx="206.2" cy="641.8" r="16.5" fill="#599cf3"/>
<line x1="488" y1="712.5" x2="488" y2="1388.5" stroke="#5b98e6" stroke-width="4.6"/>
<circle cx="488" cy="712.5" r="16.5" fill="#599cf3"/>
<line x1="746.5" y1="692" x2="746.5" y2="1324" stroke="#5b98e6" stroke-width="4.6"/>
<circle cx="746.5" cy="692" r="16.5" fill="#599cf3"/>
<line x1="976.8" y1="568" x2="976.8" y2="1267" stroke="#5b98e6" stroke-width="4.6"/>
<circle cx="976.8" cy="568" r="16.5" fill="#599cf3"/>
<line x1="1270.8" y1="365" x2="1270.8" y2="1218" stroke="#5b98e6" stroke-width="4.6"/>
<circle cx="1270.8" cy="365" r="16.5" fill="#599cf3"/>
<text x="-1" y="1479" font-size="42.4" fill="#5e9ae6" textLength="413.8" lengthAdjust="spacingAndGlyphs">High quality foam X1</text>
<text x="286.5" y="1426" font-size="42.4" fill="#5e9ae6" textLength="400.5" lengthAdjust="spacingAndGlyphs">nonwoven fabric X2</text>
<text x="580" y="1370" font-size="42.4" fill="#5e9ae6" textLength="313.3" lengthAdjust="spacingAndGlyphs">Soft Sponge X2</text>
<text x="786.5" y="1311" font-size="42.4" fill="#5e9ae6" textLength="545.7" lengthAdjust="spacingAndGlyphs">Premium polyester filler X2</text>
<text x="1059.5" y="1261" font-size="42.4" fill="#5e9ae6" textLength="420.4" lengthAdjust="spacingAndGlyphs">Microfiber fabrics X2</text>
</svg></body></html>
